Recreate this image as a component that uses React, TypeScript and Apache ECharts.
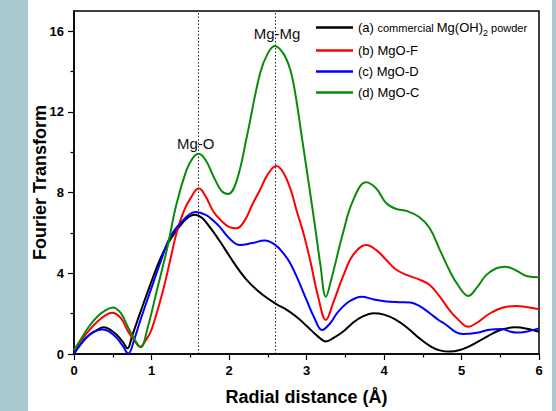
import React, { useEffect, useRef } from "react";
import * as echarts from "echarts";

// ---- data ----
const seriesNames = [
  "(a) commercial Mg(OH)2 powder",
  "(b) MgO-F",
  "(c) MgO-D",
  "(d) MgO-C",
];
const seriesColors = ["#000000", "#ff0000", "#0000ff", "#0a8a0a"];

// (a) commercial Mg(OH)2 powder
const xA = [0, 0.1, 0.2, 0.3, 0.38, 0.47, 0.55, 0.63, 0.69, 0.75, 0.85, 1.0, 1.1, 1.2, 1.3, 1.4, 1.48, 1.56, 1.65, 1.75, 1.88, 2.01, 2.14, 2.27, 2.43, 2.6, 2.74, 2.87, 3.0, 3.15, 3.25, 3.35, 3.47, 3.6, 3.72, 3.86, 4.0, 4.15, 4.3, 4.45, 4.6, 4.72, 4.85, 4.98, 5.1, 5.3, 5.5, 5.69, 5.85, 6.0];
const yA = [0.05, 0.55, 0.95, 1.2, 1.32, 1.2, 0.95, 0.6, 0.28, 0.9, 2.0, 3.6, 4.6, 5.4, 6.0, 6.5, 6.8, 6.9, 6.75, 6.3, 5.6, 4.83, 4.1, 3.5, 2.95, 2.5, 2.2, 1.85, 1.4, 0.86, 0.62, 0.8, 1.1, 1.55, 1.85, 2.02, 1.95, 1.7, 1.3, 0.8, 0.38, 0.18, 0.12, 0.2, 0.38, 0.8, 1.19, 1.32, 1.25, 1.1];

// (b) MgO-F
const xB = [0, 0.1, 0.2, 0.3, 0.4, 0.49, 0.6, 0.7, 0.8, 0.85, 0.93, 1.0, 1.15, 1.25, 1.33, 1.42, 1.5, 1.61, 1.7, 1.8, 1.9, 2.0, 2.1, 2.2, 2.3, 2.4, 2.5, 2.61, 2.7, 2.8, 2.87, 2.96, 3.05, 3.15, 3.25, 3.35, 3.47, 3.6, 3.77, 3.9, 4.03, 4.15, 4.29, 4.45, 4.59, 4.72, 4.84, 4.94, 5.09, 5.2, 5.37, 5.55, 5.71, 5.85, 6.0];
const yB = [0.2, 0.7, 1.2, 1.6, 1.9, 2.05, 1.8, 1.1, 0.55, 0.36, 0.7, 1.2, 3.17, 4.8, 6.1, 7.1, 7.7, 8.21, 7.8, 7.05, 6.6, 6.3, 6.23, 6.6, 7.4, 8.13, 8.9, 9.32, 9.0, 8.1, 7.14, 6.0, 4.6, 2.84, 1.69, 2.6, 3.83, 4.9, 5.4, 5.15, 4.66, 4.2, 3.92, 3.7, 3.42, 2.84, 2.2, 1.77, 1.35, 1.55, 2.02, 2.32, 2.38, 2.32, 2.22];

// (c) MgO-D
const xC = [0, 0.1, 0.2, 0.3, 0.37, 0.45, 0.55, 0.63, 0.7, 0.78, 0.85, 1.02, 1.12, 1.24, 1.4, 1.5, 1.57, 1.7, 1.8, 1.88, 2.0, 2.14, 2.3, 2.46, 2.6, 2.7, 2.79, 2.9, 3.0, 3.1, 3.2, 3.3, 3.4, 3.55, 3.71, 3.87, 4.03, 4.2, 4.34, 4.47, 4.59, 4.7, 4.8, 4.92, 5.02, 5.2, 5.36, 5.52, 5.62, 5.71, 5.85, 6.0];
const yC = [0, 0.55, 0.95, 1.17, 1.22, 1.12, 0.8, 0.4, 0.02, 0.75, 1.6, 3.5, 4.6, 5.8, 6.6, 6.95, 7.04, 6.9, 6.6, 6.3, 5.75, 5.4, 5.5, 5.62, 5.4, 5.0, 4.5, 3.6, 2.68, 1.8, 1.19, 1.5, 2.05, 2.6, 2.84, 2.7, 2.6, 2.57, 2.55, 2.35, 2.02, 1.7, 1.45, 1.1, 0.99, 1.05, 1.2, 1.24, 1.12, 1.06, 1.12, 1.27];

// (d) MgO-C
const xD = [0, 0.1, 0.2, 0.3, 0.4, 0.5, 0.6, 0.7, 0.8, 0.86, 0.95, 1.07, 1.2, 1.32, 1.45, 1.53, 1.61, 1.7, 1.8, 1.9, 1.99, 2.1, 2.23, 2.4, 2.5, 2.59, 2.7, 2.79, 2.86, 2.93, 3.0, 3.1, 3.18, 3.25, 3.32, 3.47, 3.6, 3.77, 3.9, 4.03, 4.15, 4.3, 4.45, 4.59, 4.72, 4.85, 4.94, 5.09, 5.2, 5.32, 5.45, 5.56, 5.7, 5.85, 6.0];
const yD = [0.2, 0.8, 1.4, 1.85, 2.15, 2.31, 2.05, 1.3, 0.6, 0.33, 1.3, 3.17, 5.2, 7.4, 9.1, 9.7, 9.92, 9.6, 8.8, 8.1, 7.93, 8.6, 10.77, 13.9, 14.9, 15.27, 14.9, 14.1, 12.8, 11.0, 9.2, 6.6, 4.4, 2.84, 3.7, 5.98, 7.6, 8.51, 8.2, 7.47, 7.2, 7.08, 6.8, 6.23, 5.16, 4.1, 3.5, 2.88, 3.3, 3.92, 4.25, 4.33, 4.15, 3.85, 3.8];

const xTicks = [0, 1, 2, 3, 4, 5, 6];
const yMajorTicks = [0, 4, 8, 12, 16];
const yMinorTicks = [2, 6, 10, 14];
const refLines = [1.6, 2.6];
const annotationTexts = ["Mg-O", "Mg-Mg"];
const annotationCoords = [
  [1.57, 10.45],
  [2.62, 15.87],
];

const FONT = "'Liberation Sans', Arial, Helvetica, sans-serif";

export default function App() {
  const ref = useRef<HTMLDivElement>(null);

  useEffect(() => {
    document.body.style.margin = "0";
    if (!ref.current) return;
    const chart = echarts.init(ref.current, null, { renderer: "svg" });

    const xs = [xA, xB, xC, xD];
    const ys = [yA, yB, yC, yD];

    const series: any[] = seriesNames.map((name, i) => ({
      name,
      type: "line",
      data: xs[i].map((x, j) => [x, ys[i][j]]),
      showSymbol: false,
      symbol: "none",
      smooth: 0.4,
      lineStyle: { color: seriesColors[i], width: 2 },
      itemStyle: { color: seriesColors[i] },
      z: 3 + i,
    }));

    series[0].markLine = {
      silent: true,
      symbol: "none",
      label: { show: false },
      lineStyle: { color: "#222", width: 1, type: [1.5, 2] },
      data: refLines.map((v) => ({ xAxis: v })),
      z: 1,
    };
    series[0].markPoint = {
      silent: true,
      symbol: "circle",
      symbolSize: 0,
      data: annotationTexts.map((t, i) => ({
        coord: annotationCoords[i],
        value: t,
        label: {
          show: true,
          position: "inside",
          formatter: t,
          color: "#111",
          fontSize: 15,
          fontFamily: FONT,
        },
      })),
    };

    chart.setOption({
      animation: false,
      backgroundColor: "transparent",
      grid: {
        left: 74,
        right: 17,
        top: 11,
        bottom: 57,
        show: true,
        borderColor: "#000",
        borderWidth: 1.5,
        backgroundColor: "transparent",
      },
      legend: {
        orient: "vertical",
        left: 316,
        top: 18,
        padding: 0,
        itemGap: 6,
        itemWidth: 37,
        itemHeight: 2.5,
        icon: "rect",
        selectedMode: false,
        data: seriesNames.map((n, i) => ({ name: n, itemStyle: { color: seriesColors[i] } })),
        formatter: (name: string) => {
          if (name === seriesNames[0]) {
            return "{n|(a) }{s|commercial }{n|Mg(OH)}{sub|2}{s| powder}";
          }
          return name;
        },
        textStyle: {
          fontFamily: FONT,
          fontSize: 13,
          color: "#000",
          lineHeight: 15,
          rich: {
            n: { fontFamily: FONT, fontSize: 13, color: "#000", lineHeight: 19 },
            s: { fontFamily: FONT, fontSize: 11, color: "#000", lineHeight: 19 },
            sub: { fontFamily: FONT, fontSize: 9, color: "#000", verticalAlign: "bottom" },
          },
        },
      },
      xAxis: {
        type: "value",
        min: xTicks[0],
        max: xTicks[xTicks.length - 1],
        interval: 1,
        name: "Radial distance (Å)",
        nameLocation: "middle",
        nameGap: 34,
        nameTextStyle: { fontFamily: FONT, fontSize: 18, fontWeight: "bold", color: "#000" },
        axisLine: { show: true, onZero: false, lineStyle: { color: "#000", width: 1.5 } },
        axisTick: { show: true, inside: false, length: 6, lineStyle: { color: "#000", width: 1.2 } },
        minorTick: { show: true, splitNumber: 2, length: 3.5, lineStyle: { color: "#000", width: 1.2 } },
        axisLabel: { fontFamily: FONT, fontSize: 13, fontWeight: "bold", color: "#000", margin: 10 },
        splitLine: { show: false },
        minorSplitLine: { show: false },
      },
      yAxis: [
        {
          type: "value",
          min: 0,
          max: 17,
          name: "Fourier Transform",
          nameLocation: "middle",
          nameGap: 25,
          nameMoveOverlap: false,
          nameTextStyle: { fontFamily: FONT, fontSize: 18, fontWeight: "bold", color: "#000" },
          axisLine: { show: true, onZero: false, lineStyle: { color: "#000", width: 1.5 } },
          axisTick: {
            show: true,
            inside: false,
            length: 6,
            customValues: yMajorTicks,
            lineStyle: { color: "#000", width: 1.2 },
          },
          axisLabel: {
            fontFamily: FONT,
            fontSize: 13,
            fontWeight: "bold",
            color: "#000",
            margin: 10,
            customValues: yMajorTicks,
          },
          splitLine: { show: false },
        },
        {
          type: "value",
          min: 0,
          max: 17,
          position: "left",
          offset: 0,
          axisLine: { show: false },
          axisTick: {
            show: true,
            inside: false,
            length: 3.5,
            customValues: yMinorTicks,
            lineStyle: { color: "#000", width: 1.2 },
          },
          axisLabel: { show: false },
          splitLine: { show: false },
        },
      ],
      series,
    });

    return () => chart.dispose();
  }, []);

  return (
    <div
      style={{
        width: 556,
        height: 411,
        background:
          "linear-gradient(to right, #a8c8cf 0px, #a8c8cf 28px, #ffffff 28px, #ffffff 552px, #a8c8cf 552px)",
      }}
    >
      <div ref={ref} style={{ width: 556, height: 411 }} />
    </div>
  );
}
